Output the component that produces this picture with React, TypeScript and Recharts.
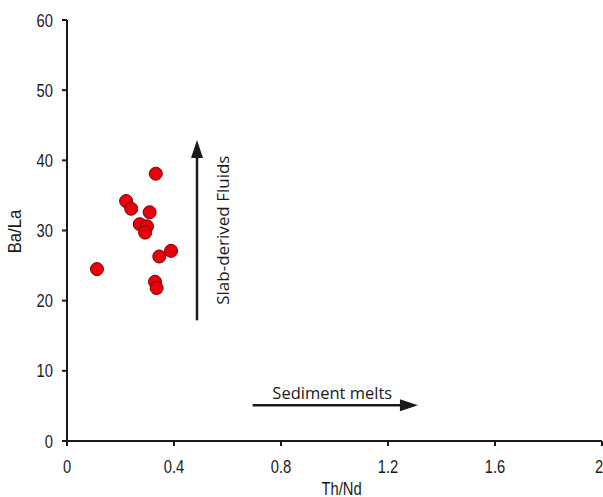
import React from "react";
import { ScatterChart, Scatter, XAxis, YAxis, ReferenceLine } from "recharts";

const thNd = [0.332, 0.221, 0.24, 0.309, 0.272, 0.299, 0.292, 0.389, 0.345, 0.112, 0.329, 0.335];
const baLa = [38.1, 34.2, 33.1, 32.6, 30.9, 30.6, 29.7, 27.1, 26.3, 24.5, 22.7, 21.8];

const xTicks = [0, 0.4, 0.8, 1.2, 1.6, 2];
const yTicks = [0, 10, 20, 30, 40, 50, 60];

const fluidArrow = { x: 0.486, from: 17.2, to: 42.9, label: "Slab-derived Fluids" };
const meltArrow = { y: 5.1, from: 0.694, to: 1.312, label: "Sediment melts" };

const points = thNd.map((x, i) => ({ x, y: baLa[i] }));

const tickFont = "'Liberation Sans', Arial, sans-serif";
const noteFont = "'Open Sans', 'Noto Sans', sans-serif";
const ink = "#1a1a1a";

// narrow-looking label: draw at origin, then translate and squeeze along the text
const NarrowText = ({ x, y, anchor, rotate, squeeze = 0.82, children }: any) => (
  <text
    transform={`translate(${x} ${y})${rotate ? ` rotate(${rotate})` : ""} scale(${squeeze} 1)`}
    textAnchor={anchor}
    dominantBaseline="central"
    fontFamily={tickFont}
    fontSize={18}
    fill={ink}
  >
    {children}
  </text>
);

const XTick = (p: any) => (
  <NarrowText x={p.x} y={p.y + 18} anchor="middle">
    {String(p.payload.value)}
  </NarrowText>
);

const YTick = (p: any) => (
  <NarrowText x={p.x - 7} y={p.y} anchor="end">
    {String(p.payload.value)}
  </NarrowText>
);

const Dot = (p: any) => (
  <circle cx={p.cx} cy={p.cy} r={6.5} fill="#e8000b" stroke="#7a0000" strokeWidth={1} />
);

const VArrow = (p: any) => {
  const { x1, y1, x2, y2 } = p;
  const top = Math.min(y1, y2);
  const bot = Math.max(y1, y2);
  const mid = (top + bot) / 2;
  return (
    <g>
      <line x1={x1} y1={bot} x2={x2} y2={top + 14} stroke={ink} strokeWidth={2.5} />
      <polygon points={`${x1},${top} ${x1 - 6},${top + 18} ${x1 + 6},${top + 18}`} fill={ink} />
      <text
        x={x1 + 26}
        y={mid}
        transform={`rotate(-90 ${x1 + 26} ${mid})`}
        textAnchor="middle"
        dominantBaseline="central"
        fontFamily={noteFont}
        fontSize={17}
        fill={ink}
      >
        {fluidArrow.label}
      </text>
    </g>
  );
};

const HArrow = (p: any) => {
  const { x1, y1, x2 } = p;
  const left = Math.min(x1, x2);
  const right = Math.max(x1, x2);
  const mid = (left + right) / 2;
  return (
    <g>
      <line x1={left} y1={y1} x2={right - 14} y2={y1} stroke={ink} strokeWidth={2.5} />
      <polygon points={`${right},${y1} ${right - 18},${y1 - 6} ${right - 18},${y1 + 6}`} fill={ink} />
      <text x={mid - 3} y={y1 - 13} textAnchor="middle" dominantBaseline="central" fontFamily={noteFont} fontSize={16.5} fill={ink}>
        {meltArrow.label}
      </text>
    </g>
  );
};

export default function App() {
  return (
    <div style={{ position: "fixed", left: 0, top: 0, background: "#fff" }}>
      <ScatterChart width={603} height={497} margin={{ top: 20, right: 1, bottom: 0, left: 0 }}>
        <XAxis
          type="number"
          dataKey="x"
          domain={[0, 2]}
          ticks={xTicks}
          height={56}
          stroke={ink}
          strokeWidth={2}
          tickSize={5}
          tick={XTick}
          label={(props: any) => {
            const vb = props.viewBox;
            return (
              <NarrowText x={vb.x + vb.width / 2 + 7} y={488} anchor="middle">
                Th/Nd
              </NarrowText>
            );
          }}
        />
        <XAxis xAxisId="top" orientation="top" type="number" domain={[0, 2]} height={0} tick={false} tickLine={false} stroke={ink} strokeWidth={2} />
        <YAxis
          type="number"
          dataKey="y"
          domain={[0, 60]}
          ticks={yTicks}
          width={67}
          stroke={ink}
          strokeWidth={2}
          tickSize={5}
          tick={YTick}
          label={(props: any) => {
            const vb = props.viewBox;
            const cy = vb.y + vb.height / 2 + 1;
            return (
              <NarrowText x={15} y={cy} anchor="middle" rotate={-90} squeeze={0.93}>
                Ba/La
              </NarrowText>
            );
          }}
        />
        <YAxis yAxisId="right" orientation="right" type="number" domain={[0, 60]} width={0} tick={false} tickLine={false} stroke={ink} strokeWidth={2} />
        <ReferenceLine
          segment={[
            { x: fluidArrow.x, y: fluidArrow.from },
            { x: fluidArrow.x, y: fluidArrow.to },
          ]}
          shape={VArrow}
        />
        <ReferenceLine
          segment={[
            { x: meltArrow.from, y: meltArrow.y },
            { x: meltArrow.to, y: meltArrow.y },
          ]}
          shape={HArrow}
        />
        <Scatter data={points} shape={Dot} isAnimationActive={false} />
      </ScatterChart>
    </div>
  );
}
